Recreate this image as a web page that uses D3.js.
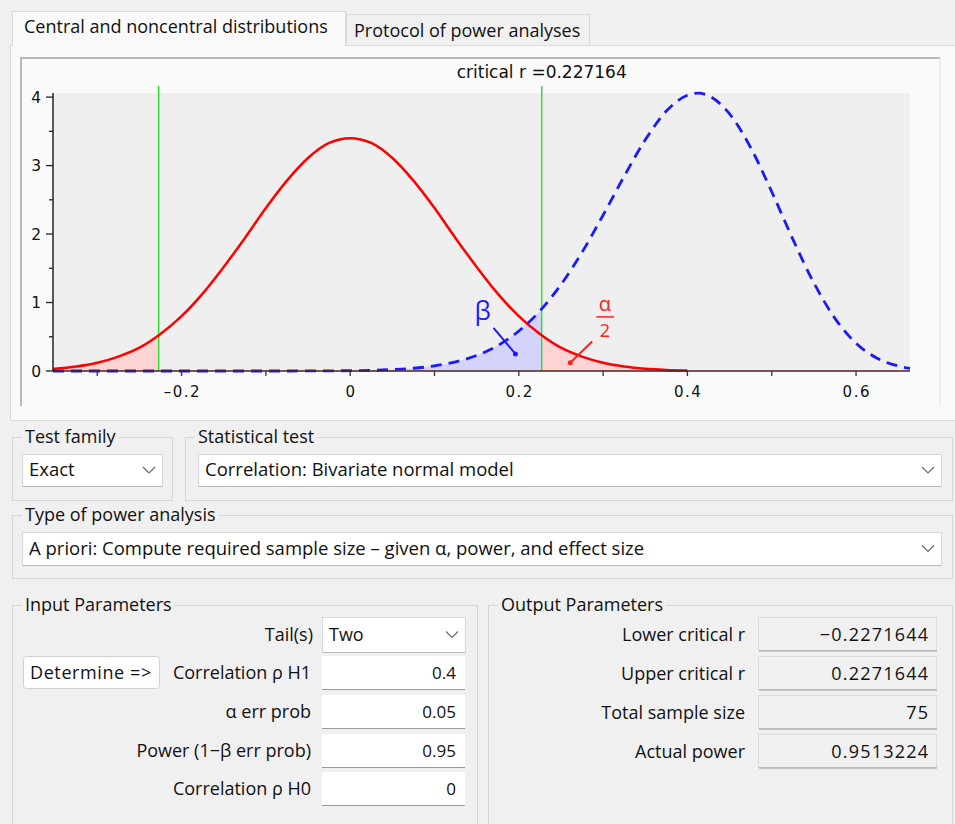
<!DOCTYPE html>
<html>
<head>
<meta charset="utf-8">
<script src="https://cdn.jsdelivr.net/npm/d3@7"></script>
<style>
  html, body { margin: 0; padding: 0; background: #f0f0f0; }
  svg text { font-family: "Open Sans", "Noto Sans", sans-serif; fill: #111; }
  .num { font-family: "DejaVu Sans", sans-serif; }
</style>
</head>
<body>
<svg id="win" width="955" height="824"></svg>
<script>
// ---- data ----
// H0 (rho = 0) density of r
var rH0 = [-0.3525, -0.325, -0.3, -0.275, -0.25, -0.225, -0.2, -0.175, -0.15, -0.125, -0.1, -0.075, -0.05, -0.025, 0,
           0.025, 0.05, 0.075, 0.1, 0.125, 0.15, 0.175, 0.2, 0.225, 0.25, 0.275, 0.3, 0.325, 0.35, 0.375, 0.4];
var densH0 = [0.031, 0.065, 0.12, 0.21, 0.34, 0.54, 0.80, 1.13, 1.52, 1.94, 2.38, 2.78, 3.11, 3.33, 3.40,
              3.33, 3.11, 2.78, 2.38, 1.94, 1.52, 1.13, 0.80, 0.54, 0.34, 0.21, 0.12, 0.065, 0.033, 0.016, 0.007];
// H1 (rho = 0.4) density of r
var rH1 = [-0.3525, -0.3, -0.25, -0.2, -0.15, -0.1, -0.05, 0, 0.025, 0.05, 0.075, 0.1, 0.125, 0.15, 0.175, 0.2,
           0.225, 0.25, 0.275, 0.3, 0.325, 0.35, 0.375, 0.4, 0.4125, 0.425, 0.45, 0.475, 0.5, 0.525, 0.55,
           0.575, 0.6, 0.625, 0.65, 0.664];
var densH1 = [0, 0, 0, 0, 0, 0, 0.001, 0.005, 0.010, 0.021, 0.040, 0.075, 0.133, 0.227, 0.371, 0.584,
              0.877, 1.262, 1.734, 2.276, 2.844, 3.376, 3.796, 4.027, 4.057, 4.021, 3.754, 3.262, 2.618, 1.926, 1.286,
              0.769, 0.406, 0.187, 0.073, 0.039];
var critR = 0.227164;
var xMajor = [-0.2, 0, 0.2, 0.4, 0.6];
var xMinor = [-0.3, -0.1, 0.1, 0.3, 0.5];
var yMajor = [0, 1, 2, 3, 4];
var yMinor = [0.5, 1.5, 2.5, 3.5];

var inputLabels = ["Correlation ρ H1", "α err prob", "Power (1−β err prob)", "Correlation ρ H0"];
var inputValues = ["0.4", "0.05", "0.95", "0"];
var outputLabels = ["Lower critical r", "Upper critical r", "Total sample size", "Actual power"];
var outputValues = ["−0.2271644", "0.2271644", "75", "0.9513224"];

var svg = d3.select("#win");

// ---- window chrome ----
svg.append("rect").attr("width", 955).attr("height", 824).attr("fill", "#f0f0f0");

// tab page
svg.append("rect").attr("x", 10.5).attr("y", 45.5).attr("width", 950).attr("height", 375)
    .attr("fill", "#f9f9f9").attr("stroke", "#dadada");
svg.append("rect").attr("x", 346.5).attr("y", 14.5).attr("width", 243).attr("height", 31)
    .attr("fill", "#f0f0f0").attr("stroke", "#dadada");
svg.append("text").attr("x", 354).attr("y", 37).attr("font-size", 18).text("Protocol of power analyses");
svg.append("path").attr("d", "M12.5,46V11.5H345.5V46").attr("fill", "#f9f9f9").attr("stroke", "#dadada");
svg.append("rect").attr("x", 13).attr("y", 44).attr("width", 332).attr("height", 3).attr("fill", "#f9f9f9");
svg.append("text").attr("x", 24).attr("y", 33).attr("font-size", 18).text("Central and noncentral distributions");

// chart frame
svg.append("rect").attr("x", 20).attr("y", 57).attr("width", 920).attr("height", 349).attr("fill", "#fafafa");
svg.append("path").attr("d", "M21,406V58H940").attr("fill", "none").attr("stroke", "#a3a3a3").attr("stroke-width", 1.5);
svg.append("path").attr("d", "M940,58V406").attr("fill", "none").attr("stroke", "#e2e2e2");

// ---- plot ----
var x = d3.scaleLinear().domain([-0.3525, 0.664]).range([53, 910]);
var y = d3.scaleLinear().domain([0, 4.06]).range([371, 93]);

var plot = svg.append("g");
plot.append("rect").attr("x", x.range()[0]).attr("y", y(4.06)).attr("width", x.range()[1] - x.range()[0])
    .attr("height", y(0) - y(4.06)).attr("fill", "#efefef");

var h0 = rH0.map(function(r, i) { return {r: r, d: densH0[i]}; });
var h1 = rH1.map(function(r, i) { return {r: r, d: densH1[i]}; });

var line = d3.line().x(function(d) { return x(d.r); }).y(function(d) { return y(d.d); }).curve(d3.curveMonotoneX);
var area = d3.area().x(function(d) { return x(d.r); }).y0(y(0)).y1(function(d) { return y(d.d); }).curve(d3.curveMonotoneX);

var defs = svg.append("defs");
defs.append("clipPath").attr("id", "leftTail").append("rect")
    .attr("x", x(-0.3525)).attr("y", 0).attr("width", x(-critR) - x(-0.3525)).attr("height", 400);
defs.append("clipPath").attr("id", "rightTail").append("rect")
    .attr("x", x(critR)).attr("y", 0).attr("width", x(0.664) - x(critR)).attr("height", 400);
defs.append("clipPath").attr("id", "betaPart").append("rect")
    .attr("x", x(-0.3525)).attr("y", 0).attr("width", x(critR) - x(-0.3525)).attr("height", 400);

plot.append("path").datum(h1).attr("d", area).attr("fill", "#d3d3fb").attr("clip-path", "url(#betaPart)");
plot.append("path").datum(h0).attr("d", area).attr("fill", "#fdd3d3").attr("clip-path", "url(#leftTail)");
plot.append("path").datum(h0).attr("d", area).attr("fill", "#fdd3d3").attr("clip-path", "url(#rightTail)");

// critical lines
plot.selectAll(".crit").data([-critR, critR]).enter().append("line")
    .attr("x1", function(d) { return x(d); }).attr("x2", function(d) { return x(d); })
    .attr("y1", 86).attr("y2", y(0))
    .attr("stroke", "#30e030").attr("stroke-width", 1.5);

svg.append("text").attr("class", "num").attr("x", x(critR)).attr("y", 78).attr("text-anchor", "middle")
    .attr("font-size", 17).text("critical r =" + critR);

plot.append("path").datum(h0).attr("d", line).attr("fill", "none").attr("stroke", "#ff0000").attr("stroke-width", 2.5);
plot.append("path").datum(h1).attr("d", line).attr("fill", "none").attr("stroke", "#1a1aff")
    .attr("stroke-width", 2.8).attr("stroke-dasharray", "11,7");

// axes
var xAxis = plot.append("g").attr("transform", "translate(0," + y(0) + ")");
xAxis.append("line").attr("x1", x.range()[0]).attr("x2", x.range()[1]).attr("stroke", "#4a2020").attr("stroke-width", 1.5);
xAxis.selectAll(".tk").data(xMajor.concat(xMinor)).enter().append("line")
    .attr("x1", function(d) { return x(d); }).attr("x2", function(d) { return x(d); })
    .attr("y1", 0).attr("y2", 5).attr("stroke", "#333").attr("stroke-width", 1.3);
xAxis.selectAll(".lb").data(xMajor).enter().append("text")
    .attr("class", "num").attr("x", function(d) { return x(d) + 0.75; }).attr("y", 26).attr("text-anchor", "middle")
    .attr("font-size", 15).attr("letter-spacing", 1.5)
    .text(function(d) { return d === 0 ? "0" : d3.format(".1f")(d).replace("−", "–"); });

var yAxis = plot.append("g").attr("transform", "translate(" + x.range()[0] + ",0)");
yAxis.append("line").attr("y1", y(0)).attr("y2", y(4.06)).attr("stroke", "#222").attr("stroke-width", 1.5);
yAxis.selectAll(".tk").data(yMajor).enter().append("line")
    .attr("x1", -7).attr("x2", 0).attr("y1", function(d) { return y(d); }).attr("y2", function(d) { return y(d); })
    .attr("stroke", "#222").attr("stroke-width", 1.3);
yAxis.selectAll(".mt").data(yMinor).enter().append("line")
    .attr("x1", -4).attr("x2", 0).attr("y1", function(d) { return y(d); }).attr("y2", function(d) { return y(d); })
    .attr("stroke", "#222").attr("stroke-width", 1.3);
yAxis.selectAll(".lb").data(yMajor).enter().append("text")
    .attr("class", "num").attr("x", -12).attr("y", function(d) { return y(d) + 5.5; }).attr("text-anchor", "end")
    .attr("font-size", 15.5)
    .text(function(d) { return d; });

// beta / alpha annotations
plot.append("text").attr("x", x(0.157)).attr("y", y(0.75)).attr("text-anchor", "middle")
    .attr("font-size", 26).style("fill", "#1a1aff").text("β");
plot.append("line").attr("x1", x(0.170)).attr("y1", y(0.63)).attr("x2", x(0.196)).attr("y2", y(0.25))
    .attr("stroke", "#1a1aff").attr("stroke-width", 2);
plot.append("circle").attr("cx", x(0.196)).attr("cy", y(0.25)).attr("r", 2.5).attr("fill", "#1a1aff");

plot.append("text").attr("x", x(0.302)).attr("y", y(0.88)).attr("text-anchor", "middle")
    .attr("font-size", 20).style("fill", "#ff2020").text("α");
plot.append("line").attr("x1", x(0.292)).attr("x2", x(0.313)).attr("y1", y(0.79)).attr("y2", y(0.79))
    .attr("stroke", "#ff2020").attr("stroke-width", 1.5);
plot.append("text").attr("x", x(0.302)).attr("y", y(0.49)).attr("text-anchor", "middle")
    .attr("font-size", 18).style("fill", "#ff2020").text("2");
plot.append("line").attr("x1", x(0.287)).attr("y1", y(0.43)).attr("x2", x(0.261)).attr("y2", y(0.12))
    .attr("stroke", "#ff2020").attr("stroke-width", 2);
plot.append("circle").attr("cx", x(0.261)).attr("cy", y(0.12)).attr("r", 2.5).attr("fill", "#ff2020");

// ---- form widgets ----
function fieldset(x0, y0, w, h, title, size) {
  svg.append("rect").attr("x", x0 + 0.5).attr("y", y0 + 0.5).attr("width", w).attr("height", h)
      .attr("fill", "none").attr("stroke", "#d6d6d6");
  var t = svg.append("text").attr("x", x0 + 13).attr("y", y0 + 6).attr("font-size", size || 18).text(title);
  var bb = t.node().getBBox();
  svg.insert("rect", function() { return t.node(); })
      .attr("x", bb.x - 3).attr("y", y0 - 2).attr("width", bb.width + 6).attr("height", 5).attr("fill", "#f0f0f0");
}
function chevron(cx, cy) {
  svg.append("path").attr("d", "M" + (cx - 6) + "," + (cy - 3) + "L" + cx + "," + (cy + 3) + "L" + (cx + 6) + "," + (cy - 3))
      .attr("fill", "none").attr("stroke", "#6a6a6a").attr("stroke-width", 1.2);
}
function select(x0, y0, w, h, label, size) {
  svg.append("rect").attr("x", x0 + 0.5).attr("y", y0 + 0.5).attr("width", w).attr("height", h)
      .attr("fill", "#ffffff").attr("stroke", "#d8d8d8");
  svg.append("line").attr("x1", x0 + 1).attr("x2", x0 + w).attr("y1", y0 + h + 0.5).attr("y2", y0 + h + 0.5)
      .attr("stroke", "#b8b8b8");
  svg.append("text").attr("x", x0 + 7).attr("y", y0 + h / 2 + 6).attr("font-size", size || 18.5).text(label);
  chevron(x0 + w - 13, y0 + h / 2);
}

fieldset(12, 437, 160, 63, "Test family");
select(22, 454, 140, 32, "Exact");
fieldset(185, 437, 767, 63, "Statistical test");
select(198, 454, 743, 32, "Correlation: Bivariate normal model");
fieldset(12, 515, 940, 63, "Type of power analysis");
select(22, 532, 919, 33, "A priori: Compute required sample size – given α, power, and effect size");

fieldset(12, 605, 465, 230, "Input Parameters", 18);
fieldset(488, 605, 464, 230, "Output Parameters", 18);

// Tail(s)
svg.append("text").attr("x", 313).attr("y", 641).attr("text-anchor", "end").attr("font-size", 18).text("Tail(s)");
select(322, 617, 143, 35, "Two", 18);

// Determine button
svg.append("rect").attr("x", 23.5).attr("y", 656.5).attr("width", 136).attr("height", 32).attr("rx", 3)
    .attr("fill", "#ffffff").attr("stroke", "#d0d0d0");
svg.append("text").attr("x", 30).attr("y", 679).attr("font-size", 18).attr("letter-spacing", 0.6).text("Determine =>");

var inTop = [656, 695, 734, 772];
inputLabels.forEach(function(lab, i) {
  var y0 = inTop[i];
  svg.append("text").attr("x", 311).attr("y", y0 + 23).attr("text-anchor", "end").attr("font-size", 18).text(lab);
  svg.append("rect").attr("x", 322).attr("y", y0).attr("width", 143).attr("height", 34).attr("fill", "#ffffff");
  svg.append("line").attr("x1", 322).attr("x2", 465).attr("y1", y0 + 33.5).attr("y2", y0 + 33.5).attr("stroke", "#9a9a9a");
  svg.append("text").attr("x", 456).attr("y", y0 + 23).attr("text-anchor", "end").attr("font-size", 17).text(inputValues[i]);
});

var outTop = [617, 656, 695, 734];
outputLabels.forEach(function(lab, i) {
  var y0 = outTop[i];
  svg.append("text").attr("x", 745).attr("y", y0 + 24).attr("text-anchor", "end").attr("font-size", 18).text(lab);
  svg.append("rect").attr("x", 758.5).attr("y", y0 + 0.5).attr("width", 178).attr("height", 33)
      .attr("fill", "#f0f0f0").attr("stroke", "#dcdcdc");
  svg.append("line").attr("x1", 759).attr("x2", 937).attr("y1", y0 + 34).attr("y2", y0 + 34).attr("stroke", "#9a9a9a");
  svg.append("text").attr("x", 929.2).attr("y", y0 + 24).attr("text-anchor", "end").attr("font-size", 18)
      .attr("letter-spacing", 1.2).text(outputValues[i]);
});
</script>
</body>
</html>
